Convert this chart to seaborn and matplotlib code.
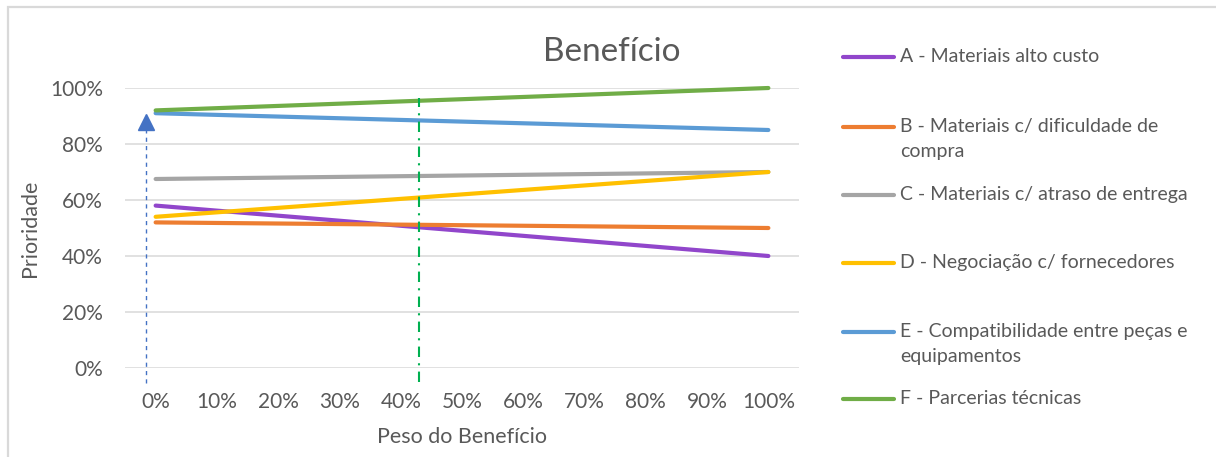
import matplotlib
matplotlib.use("Agg")
import matplotlib.pyplot as plt
from matplotlib.lines import Line2D
from matplotlib.patches import Rectangle
import seaborn as sns
import pandas as pd

# Weight given to the benefit criterion (%), and the priority of each item (%)
weights = [0, 100]
series_names = [
    "A - Materiais alto custo",
    "B - Materiais c/ dificuldade de\ncompra",
    "C - Materiais c/ atraso de entrega",
    "D - Negociação c/ fornecedores",
    "E - Compatibilidade entre peças e\nequipamentos",
    "F - Parcerias técnicas",
]
a_vals = [58, 40]
b_vals = [52, 50]
c_vals = [67.5, 70]
d_vals = [54, 70]
e_vals = [91, 85]
f_vals = [92, 100]
palette = ["#9146CB", "#ED7D31", "#A5A5A5", "#FFC000", "#5B9BD5", "#70AD47"]

x_ticks = list(range(0, 101, 10))
y_ticks = list(range(0, 101, 20))
chosen_weight = 43          # current benefit weight (green marker line)
base_weight = -1.6          # reference arrow position
arrow_top = 87.7

TEXT = "#595959"

sns.set_theme(style="white")
plt.rcParams["font.family"] = ["Lato", "DejaVu Sans"]

rows = []
for name, vals in zip(series_names, [a_vals, b_vals, c_vals, d_vals, e_vals, f_vals]):
    for w, v in zip(weights, vals):
        rows.append({"peso": w, "prioridade": v, "serie": name})
df = pd.DataFrame(rows)

W, H = 1216, 457
fig = plt.figure(figsize=(W / 100, H / 100), dpi=100)
ax = fig.add_axes([125 / W, 1 - 368 / H, 674 / W, 280 / H])

# outer chart frame
fig.add_artist(Rectangle((8 / W, -0.1), 1.2, 1 - 7 / H + 0.1, transform=fig.transFigure,
                         fill=False, edgecolor="#D9D9D9", lw=1.6))

ax.set_xlim(-5, 105)
ax.set_ylim(0, 100)
ax.set_yticks(y_ticks)
ax.set_xticks(x_ticks)
ax.set_yticklabels([f"{t}%" for t in y_ticks])
ax.set_xticklabels([f"{t}%" for t in x_ticks])
ax.tick_params(axis="both", length=0, labelsize=15, labelcolor=TEXT)
ax.tick_params(axis="y", pad=16)
ax.tick_params(axis="x", pad=17)
for s in ax.spines.values():
    s.set_visible(False)
ax.grid(axis="y", color="#D9D9D9", lw=1.1)
ax.grid(axis="x", visible=False)

sns.lineplot(data=df, x="peso", y="prioridade", hue="serie", palette=palette,
             hue_order=series_names, lw=3, solid_capstyle="round", legend=False,
             ax=ax, clip_on=False, zorder=3)
ax.set_xlabel("")
ax.set_ylabel("")

# reference arrow at the start of the axis
ax.plot([base_weight, base_weight], [-5.4, 85.5], color="#4472C4", lw=1,
        linestyle=(0, (3, 3)), clip_on=False, zorder=2)
ax.plot([base_weight], [arrow_top], marker="^", ms=11.5, color="#4472C4",
        clip_on=False, zorder=4)

# current weight marker
ax.plot([chosen_weight, chosen_weight], [-5, 96.4], color="#00B050", lw=1.5,
        linestyle=(0, (5, 3, 1, 3)), clip_on=False, zorder=4)

fig.text(612 / W, 1 - 52 / H, "Benefício", fontsize=24, color=TEXT, ha="center", va="center")
fig.text(30 / W, 1 - 228 / H, "Prioridade", fontsize=15.5, color=TEXT, ha="center",
         va="center", rotation=90)
fig.text(462 / W, 1 - 437 / H, "Peso do Benefício", fontsize=15.5, color=TEXT,
         ha="center", va="center")

# legend drawn beside the plot, handle aligned with the first text line
legend_y = [57, 127, 195, 263, 332, 399]
for name, col, yy in zip(series_names, palette, legend_y):
    yf = 1 - yy / H
    fig.add_artist(Line2D([843 / W, 894 / W], [yf, yf], transform=fig.transFigure,
                          color=col, lw=3, solid_capstyle="round"))
    fig.text(900 / W, 1 - (yy - 9) / H, name, fontsize=14, color=TEXT, ha="left", va="top",
             linespacing=1.6, transform=fig.transFigure)

fig.savefig("out.png", dpi=100, facecolor="white")
